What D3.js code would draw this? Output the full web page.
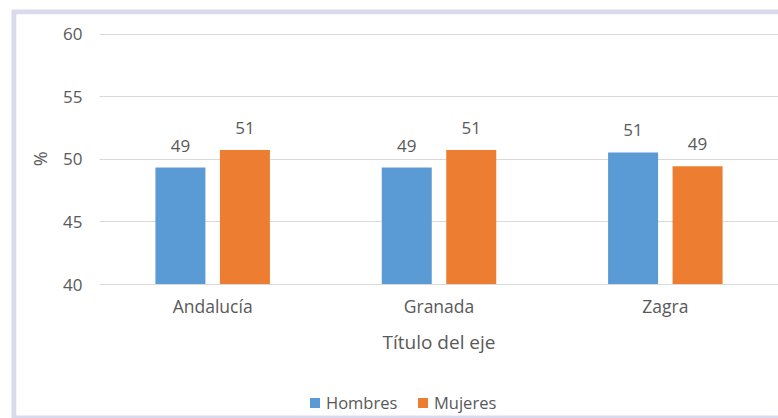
<!DOCTYPE html>
<html>
<head>
<meta charset="utf-8">
<script src="https://cdn.jsdelivr.net/npm/d3@7/dist/d3.min.js"></script>
<style>
  html, body { margin: 0; padding: 0; background: #ffffff; }
  svg { display: block; }
  text { font-family: "Open Sans", "Noto Sans", sans-serif; fill: #595959; }
</style>
</head>
<body>
<svg id="chart" width="778" height="418"></svg>
<script>
// Porcentaje de población por sexo
const categories = ["Andalucía", "Granada", "Zagra"];
const seriesNames = ["Hombres", "Mujeres"];
const hombres = [49.3, 49.3, 50.5];
const mujeres = [50.7, 50.7, 49.4];
const yTicks = [40, 45, 50, 55, 60];
const colors = ["#5B9BD5", "#ED7D31"];

const seriesValues = [hombres, mujeres];
const rows = categories.map((c, i) => ({
  category: c,
  values: seriesNames.map((s, j) => ({ series: s, value: seriesValues[j][i], idx: j }))
}));

const svg = d3.select("#chart");
const W = 778, H = 418;

// Chart frame
svg.append("rect")
  .attr("x", 14).attr("y", 12)
  .attr("width", W + 10).attr("height", 404.5)
  .attr("fill", "#ffffff")
  .attr("stroke", "#D9DAEC")
  .attr("stroke-width", 5);
svg.append("rect")
  .attr("x", 16.5).attr("y", 14.5)
  .attr("width", W).attr("height", 401)
  .attr("fill", "#ffffff");

const plot = { left: 99.5, right: 778.5, top: 33.5, bottom: 284 };

const x0 = d3.scaleBand()
  .domain(categories)
  .range([plot.left, plot.right])
  .paddingInner(0)
  .paddingOuter(0);

// Two bars of fixed width with a small gap, centred in each category
const barW = 50, barGap = 14.5;
const x1 = d3.scaleBand()
  .domain(seriesNames)
  .range([-(barW + barGap / 2), barW + barGap / 2])
  .paddingInner(barGap / (barW + barGap))
  .paddingOuter(0);

const y = d3.scaleLinear()
  .domain([40, 60])
  .range([plot.bottom, plot.top]);

// Grid lines
svg.append("g")
  .selectAll("line")
  .data(yTicks)
  .join("line")
  .attr("x1", plot.left).attr("x2", plot.right)
  .attr("y1", d => Math.round(y(d)) + 0.5)
  .attr("y2", d => Math.round(y(d)) + 0.5)
  .attr("stroke", "#D9D9D9")
  .attr("stroke-width", 1);

// Y axis labels
const yAxis = d3.axisLeft(y).tickValues(yTicks).tickSize(0).tickPadding(0);
const gy = svg.append("g")
  .attr("transform", `translate(${plot.left - 17},0)`)
  .call(yAxis);
gy.select(".domain").remove();
gy.selectAll("text")
  .style("font-size", "17px")
  .attr("fill", "#595959")
  .attr("dy", "0.36em");

// Bars
const groups = svg.append("g")
  .selectAll("g")
  .data(rows)
  .join("g")
  .attr("transform", d => `translate(${x0(d.category) + x0.bandwidth() / 2},0)`);

groups.selectAll("rect")
  .data(d => d.values)
  .join("rect")
  .attr("x", d => x1(d.series))
  .attr("width", x1.bandwidth())
  .attr("y", d => y(d.value))
  .attr("height", d => y(40) - y(d.value))
  .attr("fill", d => colors[d.idx]);

// Value labels
const fmt = d3.format(".0f");
groups.selectAll("text.val")
  .data(d => d.values)
  .join("text")
  .attr("class", "val")
  .attr("x", d => x1(d.series) + x1.bandwidth() / 2)
  .attr("y", d => y(d.value) - 16)
  .attr("text-anchor", "middle")
  .style("font-size", "17px")
  .text(d => fmt(d.value));

// Category axis labels
const xAxis = d3.axisBottom(x0).tickSize(0).tickPadding(0);
const gx = svg.append("g")
  .attr("transform", `translate(0,${plot.bottom + 17})`)
  .call(xAxis);
gx.select(".domain").remove();
gx.selectAll("text")
  .style("font-size", "17.5px")
  .attr("fill", "#595959")
  .attr("dy", "0.71em");

// Axis titles
svg.append("text")
  .attr("x", (plot.left + plot.right) / 2)
  .attr("y", 349)
  .attr("text-anchor", "middle")
  .style("font-size", "19px")
  .text("Título del eje");

svg.append("text")
  .attr("transform", `translate(47,${y(50)}) rotate(-90)`)
  .attr("text-anchor", "middle")
  .style("font-size", "18px")
  .text("%");

// Legend
const legendItems = [
  { name: seriesNames[0], color: colors[0], x: 310 },
  { name: seriesNames[1], color: colors[1], x: 418 }
];
const lg = svg.append("g");
lg.selectAll("rect")
  .data(legendItems)
  .join("rect")
  .attr("x", d => d.x)
  .attr("y", 398)
  .attr("width", 10)
  .attr("height", 10)
  .attr("fill", d => d.color);
lg.selectAll("text")
  .data(legendItems)
  .join("text")
  .attr("x", d => d.x + 16)
  .attr("y", 409)
  .style("font-size", "16.5px")
  .text(d => d.name);
</script>
</body>
</html>
